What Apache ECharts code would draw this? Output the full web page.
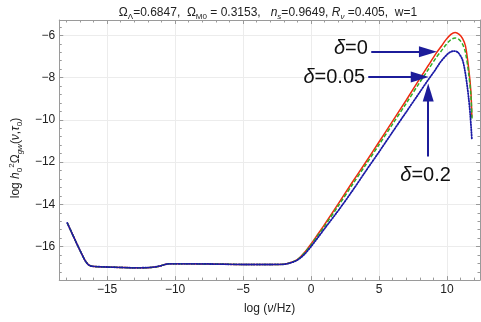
<!DOCTYPE html>
<html><head><meta charset="utf-8">
<script src="https://cdn.jsdelivr.net/npm/echarts@6/dist/echarts.min.js"></script>
<style>html,body{margin:0;padding:0;background:#fff}#c{width:481px;height:322px}</style>
</head><body><div id="c"></div>
<script>
// ---- data ----
const xTicks = [-15, -10, -5, 0, 5, 10];
const yTicks = [-16, -14, -12, -10, -8, -6];
const xMinorTicks = [-18, -17, -16, -15, -14, -13, -12, -11, -10, -9, -8, -7, -6, -5, -4, -3, -2, -1, 0, 1, 2, 3, 4, 5, 6, 7, 8, 9, 10, 11, 12];
const yMinorTicks = [-17.2, -16.8, -16.4, -16, -15.6, -15.2, -14.8, -14.4, -14, -13.6, -13.2, -12.8, -12.4, -12, -11.6, -11.2, -10.8, -10.4, -10, -9.6, -9.2, -8.8, -8.4, -8, -7.6, -7.2, -6.8, -6.4, -6, -5.6];
const X_MIN = -18.52, X_MAX = 12.43, Y_MIN = -17.59, Y_MAX = -5.27;

// shared low-frequency part (all three curves overlap)
const xLow = [-17.93, -17.57, -17.21, -16.86, -16.62, -16.38, -16.14, -15.5, -15, -14, -13, -12.1, -11.5, -11.1, -10.8, -10.5, -9, -7, -5, -3, -2];
const yLow = [-14.88, -15.39, -15.89, -16.36, -16.66, -16.86, -16.93, -16.96, -16.97, -16.99, -17.01, -17.0, -16.97, -16.92, -16.86, -16.82, -16.82, -16.83, -16.85, -16.85, -16.84];

// delta = 0 (red)
const xRed = [-1.5, -1, -0.5, 0, 0.5, 1, 2, 3, 4, 5, 6, 7, 8, 8.6, 9.2, 9.6, 9.93, 10.29, 10.6, 10.9, 11.15, 11.36, 11.6, 11.76, 11.83];
const yRed = [-16.76, -16.62, -16.3, -15.88, -15.42, -14.95, -13.98, -12.99, -12.03, -11.05, -10.06, -9.07, -8.05, -7.45, -6.85, -6.5, -6.2, -5.95, -5.86, -5.95, -6.15, -6.5, -7.58, -8.66, -9.89];

// delta = 0.05 (green, dashed)
const xGreen = [-1.5, -1, -0.5, 0, 0.5, 1, 2, 3, 4, 5, 6, 7, 8, 8.6, 9.2, 9.6, 9.93, 10.29, 10.6, 10.9, 11.15, 11.36, 11.6, 11.76, 11.84];
const yGreen = [-16.76, -16.62, -16.32, -15.92, -15.48, -15.03, -14.08, -13.11, -12.15, -11.18, -10.2, -9.22, -8.22, -7.64, -7.06, -6.72, -6.44, -6.2, -6.12, -6.2, -6.42, -6.8, -7.82, -8.85, -9.95];

// delta = 0.2 (blue, dotted)
const xBlue = [-1.5, -1, -0.5, 0, 0.5, 1, 2, 3, 4, 5, 6, 7, 8, 8.57, 9.1, 9.57, 10.05, 10.3, 10.52, 10.8, 11.12, 11.3, 11.48, 11.6, 11.71, 11.83];
const yBlue = [-16.77, -16.64, -16.38, -16.0, -15.58, -15.15, -14.3, -13.4, -12.45, -11.52, -10.57, -9.63, -8.69, -8.15, -7.67, -7.22, -6.88, -6.77, -6.74, -6.8, -7.12, -7.6, -8.35, -9.0, -9.74, -10.89];

// annotation arrows [xFrom, yFrom, xTo, yTo] and label anchors [x, y]
const arrow0 = [4.43, -6.77, 8.6, -6.77];
const arrow05 = [4.21, -7.97, 8.0, -7.97];
const arrow2 = [8.62, -11.74, 8.62, -8.7];
const label0 = [2.93, -6.62];
const label05 = [1.71, -7.98];
const label2 = [8.43, -12.62];
const labels = ['{d|δ}=0', '{d|δ}=0.05', '{d|δ}=0.2'];

// ---- build ----
function pts(xs, ys) { return xs.map((x, i) => [x, ys[i]]); }
const low = pts(xLow, yLow);
const FRAME = '#9a9a9a';
const fmt = v => (v < 0 ? '\u2212' + Math.abs(v) : '' + v);
const rich = {
  i: { fontStyle: 'italic', fontSize: 12, lineHeight: 16, fontFamily: 'Liberation Sans', color: '#222' },
  sub: { fontSize: 8, lineHeight: 8, verticalAlign: 'bottom', fontFamily: 'Liberation Sans', color: '#222' },
  isub: { fontSize: 8, lineHeight: 8, verticalAlign: 'bottom', fontStyle: 'italic', fontFamily: 'Liberation Sans', color: '#222' },
  sup: { fontSize: 8, lineHeight: 8, verticalAlign: 'top', fontFamily: 'Liberation Sans', color: '#222' }
};

function ax(min, max, pos, ticks, len, main, labelSide) {
  const lab = main && pos === labelSide;
  return {
    type: 'value', min: min, max: max, position: pos,
    axisLine: { show: main, onZero: false, lineStyle: { color: FRAME, width: 1 } },
    axisTick: { show: true, inside: true, length: len, customValues: ticks, lineStyle: { color: FRAME } },
    axisLabel: { show: lab, customValues: ticks, formatter: fmt, color: '#222', fontSize: 12, fontFamily: 'Liberation Sans', margin: 4 },
    splitLine: { show: lab, lineStyle: { color: '#ececec' } }
  };
}
const xAxes = [
  ax(X_MIN, X_MAX, 'bottom', xTicks, 4, true, 'bottom'),
  ax(X_MIN, X_MAX, 'bottom', xMinorTicks, 2.5, false, 'bottom'),
  ax(X_MIN, X_MAX, 'top', xTicks, 4, true, 'bottom'),
  ax(X_MIN, X_MAX, 'top', xMinorTicks, 2.5, false, 'bottom')
];
xAxes[0].name = 'log ({i|ν}/Hz)';
xAxes[0].nameLocation = 'middle';
xAxes[0].nameGap = 19;
xAxes[0].nameTextStyle = { fontSize: 12, fontFamily: 'Liberation Sans', color: '#222', lineHeight: 16, rich: rich };
const yAxes = [
  ax(Y_MIN, Y_MAX, 'left', yTicks, 4, true, 'left'),
  ax(Y_MIN, Y_MAX, 'left', yMinorTicks, 2.5, false, 'left'),
  ax(Y_MIN, Y_MAX, 'right', yTicks, 4, true, 'left'),
  ax(Y_MIN, Y_MAX, 'right', yMinorTicks, 2.5, false, 'left')
];
yAxes[0].name = 'log {i|h}{sub|0}{sup|2}Ω{isub|gw}({i|ν},{i|τ}{sub|0})';
yAxes[0].nameLocation = 'middle';
yAxes[0].nameGap = 30;
yAxes[0].nameTextStyle = { fontSize: 12, fontFamily: 'Liberation Sans', color: '#222', lineHeight: 16, rich: rich, padding: [0, 16, 0, 0] };

const ARROW = '#1c1c9a';
function ml(a) { return [{ coord: [a[0], a[1]] }, { coord: [a[2], a[3]] }]; }

const chart = echarts.init(document.getElementById('c'), null, { renderer: 'canvas' });
chart.setOption({
  animation: false,
  title: {
    text: 'Ω{sub|Λ}=0.6847,  Ω{sub|M0} = 0.3153,   {i|n}{isub|s}=0.9649, {i|R}{isub|ν} =0.405,  w=1',
    left: 263, top: 0, textAlign: 'center',
    textStyle: { fontSize: 12, fontWeight: 'normal', fontFamily: 'Liberation Sans', color: '#222', lineHeight: 16, rich: rich }
  },
  grid: { left: 46.7, right: 1, top: 20, bottom: 35.3, containLabel: false },
  xAxis: xAxes,
  yAxis: yAxes,
  series: [
    { type: 'line', name: 'δ=0', data: low.concat(pts(xRed, yRed)), showSymbol: false, smooth: 0.3, lineStyle: { color: '#ee2a10', width: 1.5 }, z: 2 },
    { type: 'line', name: 'δ=0.05', data: low.concat(pts(xGreen, yGreen)), showSymbol: false, smooth: 0.3, lineStyle: { color: '#2fae25', width: 1.5, type: [4, 2] }, z: 3 },
    { type: 'line', name: 'δ=0.2', data: low.concat(pts(xBlue, yBlue)), showSymbol: false, smooth: 0.3, lineStyle: { color: '#1a1aa6', width: 1.8, type: [1, 1.6], cap: 'round' }, z: 4,
      markLine: {
        silent: true, symbol: ['none', 'triangle'], symbolSize: [11, 18],
        lineStyle: { color: ARROW, width: 2, type: 'solid' }, label: { show: false },
        data: [ml(arrow0), ml(arrow05), ml(arrow2)]
      }
    }
  ]
});

function putLabels() {
  const anchors = [label0, label05, label2];
  const els = anchors.map((p, i) => {
    const px = chart.convertToPixel({ xAxisIndex: 0, yAxisIndex: 0 }, p);
    return {
      type: 'text', x: px[0], y: px[1], z: 100,
      style: {
        text: labels[i], fill: '#111', fontSize: 20, fontFamily: 'Liberation Sans',
        align: 'center', verticalAlign: 'middle',
        rich: { d: { fontStyle: 'italic', fontSize: 20, fontFamily: 'Liberation Sans', fill: '#111' } }
      }
    };
  });
  chart.setOption({ graphic: els });
}
putLabels();
</script></body></html>
